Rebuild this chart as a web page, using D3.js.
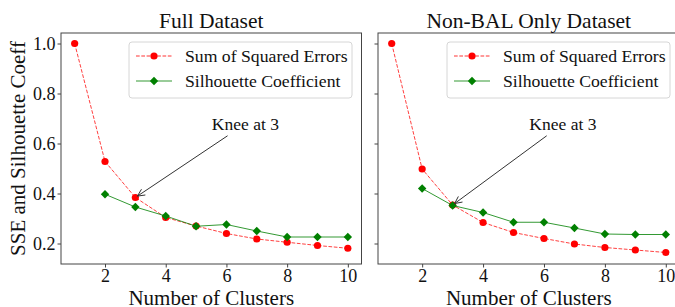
<!DOCTYPE html>
<html>
<head>
<meta charset="utf-8">
<script src="https://cdn.jsdelivr.net/npm/d3@7"></script>
<style>
  body { margin: 0; background: #fff; }
  svg { display: block; }
  svg text { font-family: "Liberation Serif", "DejaVu Serif", serif; }
</style>
</head>
<body>
<svg id="chart" width="675" height="307"></svg>
<script>
const clusters = [1, 2, 3, 4, 5, 6, 7, 8, 9, 10];
const sseFull = [1.0, 0.528, 0.384, 0.304, 0.27, 0.24, 0.218, 0.205, 0.192, 0.181];
const silFull = [null, 0.397, 0.346, 0.31, 0.269, 0.276, 0.25, 0.226, 0.226, 0.226];
const sseNonBal = [1.0, 0.498, 0.354, 0.284, 0.244, 0.22, 0.198, 0.184, 0.174, 0.164];
const silNonBal = [null, 0.42, 0.352, 0.324, 0.285, 0.285, 0.262, 0.238, 0.236, 0.236];
const xTicks = [2, 4, 6, 8, 10];
const yTicks = [0.2, 0.4, 0.6, 0.8, 1.0];
const titles = ["Full Dataset", "Non-BAL Only Dataset"];
const legendLabels = ["Sum of Squared Errors", "Silhouette Coefficient"];
const kneeAt = 3;

const svg = d3.select("#chart");
const plotTop = 33, plotBottom = 264;
const serif = "Liberation Serif";
const panels = [
  { left: 61, right: 361.5, title: titles[0], sse: sseFull, sil: silFull, yLabels: true },
  { left: 378, right: 679.5, title: titles[1], sse: sseNonBal, sil: silNonBal, yLabels: false },
];

const y = d3.scaleLinear().domain([0.118, 1.042]).range([plotBottom, plotTop]);
const axisColor = "#444";

panels.forEach((p) => {
  const x = d3.scaleLinear().domain([0.55, 10.45]).range([p.left, p.right]);
  const g = svg.append("g").attr("font-family", serif);

  // x axis
  const xa = g.append("g")
    .attr("transform", `translate(0,${plotBottom})`)
    .call(d3.axisBottom(x).tickValues(xTicks).tickSize(3.5).tickPadding(2).tickSizeOuter(0).tickFormat(d3.format("d")))
    .attr("font-family", serif);
  xa.select(".domain").remove();
  xa.selectAll("line").attr("stroke", axisColor);
  xa.selectAll("text").attr("font-size", 18).attr("fill", "#111");

  // y axis
  const ya = g.append("g")
    .attr("transform", `translate(${p.left},0)`)
    .call(d3.axisLeft(y).tickValues(yTicks).tickSize(3.5).tickSizeOuter(0).tickFormat(d3.format(".1f")))
    .attr("font-family", serif);
  ya.select(".domain").remove();
  ya.selectAll("line").attr("stroke", axisColor);
  ya.selectAll("text").attr("font-size", 18).attr("fill", "#111").attr("x", -5.5);
  if (!p.yLabels) ya.selectAll("text").remove();

  // frame
  g.append("rect")
    .attr("x", p.left).attr("y", plotTop)
    .attr("width", p.right - p.left).attr("height", plotBottom - plotTop)
    .attr("fill", "none").attr("stroke", axisColor).attr("stroke-width", 1);

  // title
  g.append("text")
    .attr("x", (p.left + p.right) / 2).attr("y", 28)
    .attr("text-anchor", "middle").attr("font-size", 21.5).attr("fill", "#111")
    .text(p.title);

  // x label
  g.append("text")
    .attr("x", (p.left + p.right) / 2).attr("y", 305)
    .attr("text-anchor", "middle").attr("font-size", 21).attr("fill", "#111")
    .text("Number of Clusters");

  const sseData = clusters.map((c, i) => ({ c, v: p.sse[i] }));
  const silData = clusters.map((c, i) => ({ c, v: p.sil[i] })).filter((d) => d.v != null);
  const line = d3.line().x((d) => x(d.c)).y((d) => y(d.v));

  // SSE
  g.append("path").datum(sseData)
    .attr("d", line).attr("fill", "none")
    .attr("stroke", "#ff0000").attr("stroke-opacity", 0.75)
    .attr("stroke-width", 1).attr("stroke-dasharray", "3.7,1.6");
  g.selectAll(".sse").data(sseData).enter().append("circle")
    .attr("cx", (d) => x(d.c)).attr("cy", (d) => y(d.v)).attr("r", 3.6)
    .attr("fill", "#ff0000");

  // Silhouette
  g.append("path").datum(silData)
    .attr("d", line).attr("fill", "none")
    .attr("stroke", "#008000").attr("stroke-opacity", 0.8).attr("stroke-width", 1);
  const diamond = (cx, cy, s) => `M${cx},${cy - s}L${cx + s},${cy}L${cx},${cy + s}L${cx - s},${cy}Z`;
  g.selectAll(".sil").data(silData).enter().append("path")
    .attr("d", (d) => diamond(x(d.c), y(d.v), 4.2))
    .attr("fill", "#008000");

  // annotation
  const tx = x(5.52), ty = y(0.655);
  const txt = g.append("text")
    .attr("x", tx).attr("y", ty)
    .attr("font-size", 17.5).attr("fill", "#111")
    .text("Knee at 3");
  const bb = txt.node().getBBox();
  const cx0 = bb.x + bb.width / 2, cy0 = bb.y + bb.height / 2;
  const kx = x(kneeAt), ky = y(p.sse[kneeAt - 1]);
  // start at bottom edge of text bbox
  const yStart = bb.y + bb.height + 2;
  const t0 = (yStart - cy0) / (ky - cy0);
  const sx = cx0 + (kx - cx0) * t0, sy = yStart;
  const ang = Math.atan2(ky - sy, kx - sx);
  const ex = kx - Math.cos(ang) * 2.5, ey = ky - Math.sin(ang) * 2.5;
  g.append("line")
    .attr("x1", sx).attr("y1", sy).attr("x2", ex).attr("y2", ey)
    .attr("stroke", "#333").attr("stroke-width", 1);
  const hl = 8, hw = 0.45;
  g.append("path")
    .attr("d", `M${ex - hl * Math.cos(ang - hw)},${ey - hl * Math.sin(ang - hw)}L${ex},${ey}L${ex - hl * Math.cos(ang + hw)},${ey - hl * Math.sin(ang + hw)}`)
    .attr("fill", "none").attr("stroke", "#333").attr("stroke-width", 1);

  // legend
  const lx = p.right - 9.5 - 223, ly = 42;
  const lg = g.append("g");
  lg.append("rect")
    .attr("x", lx).attr("y", ly).attr("width", 223).attr("height", 56)
    .attr("rx", 3).attr("fill", "#fff").attr("fill-opacity", 0.8)
    .attr("stroke", "#d6d6d6").attr("stroke-width", 1);
  const rows = [
    { label: legendLabels[0], color: "#ff0000", dash: "3.7,1.6", marker: "circle" },
    { label: legendLabels[1], color: "#008000", dash: null, marker: "diamond" },
  ];
  rows.forEach((r, i) => {
    const ry = ly + 14 + i * 25;
    lg.append("line")
      .attr("x1", lx + 7).attr("x2", lx + 43).attr("y1", ry).attr("y2", ry)
      .attr("stroke", r.color).attr("stroke-opacity", 0.8).attr("stroke-width", 1)
      .attr("stroke-dasharray", r.dash);
    if (r.marker === "circle") {
      lg.append("circle").attr("cx", lx + 25).attr("cy", ry).attr("r", 3.6).attr("fill", r.color);
    } else {
      lg.append("path").attr("d", diamond(lx + 25, ry, 4.2)).attr("fill", r.color);
    }
    lg.append("text")
      .attr("x", lx + 56).attr("y", ry).attr("dy", "0.33em")
      .attr("font-size", 17.7).attr("fill", "#111")
      .text(r.label);
  });
});

// shared y label
svg.append("text")
  .attr("transform", `translate(25,${(plotTop + plotBottom) / 2}) rotate(-90)`)
  .attr("text-anchor", "middle").attr("font-size", 21).attr("fill", "#111")
  .attr("font-family", serif)
  .text("SSE and Silhouette Coeff");
</script>
</body>
</html>
